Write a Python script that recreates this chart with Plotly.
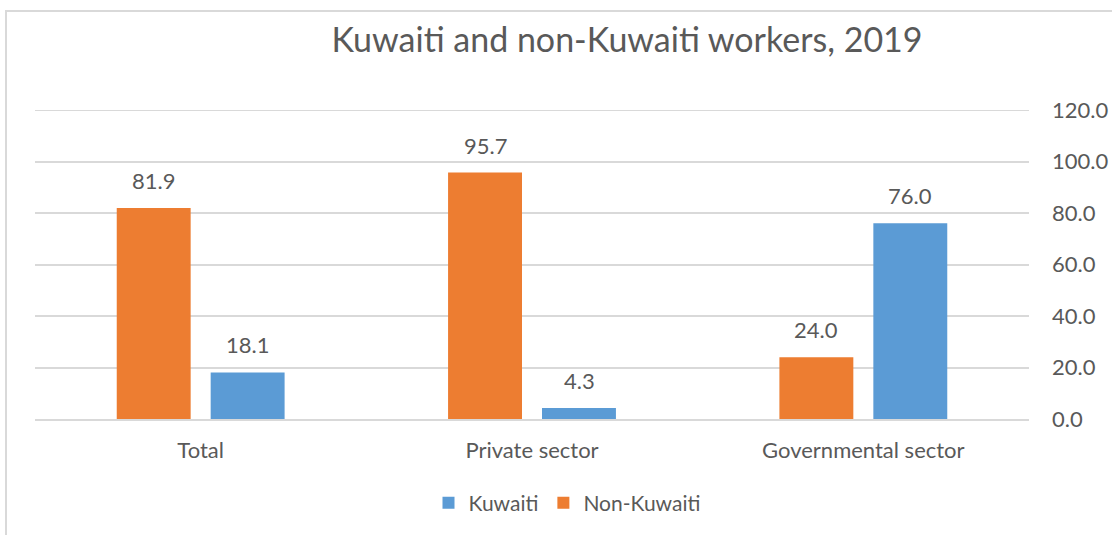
import plotly.graph_objects as go

# data
categories = ["Total", "Private sector", "Governmental sector"]
non_kuwaiti = [81.9, 95.7, 24.0]
kuwaiti = [18.1, 4.3, 76.0]
y_ticks = [0, 20, 40, 60, 80, 100, 120]

ORANGE = "#ED7D31"
BLUE = "#5B9BD5"
TEXT = "#595959"
GRID = "#D9D9D9"
FONT = "Lato, 'Open Sans', sans-serif"

W, H = 1112, 535
L, R, T, B = 35, 83, 110, 116
pw, ph = W - L - R, H - T - B

fig = go.Figure()
fig.add_trace(go.Bar(x=categories, y=non_kuwaiti, name="Non-Kuwaiti",
                     marker=dict(color=ORANGE, line=dict(width=0))))
fig.add_trace(go.Bar(x=categories, y=kuwaiti, name="Kuwaiti",
                     marker=dict(color=BLUE, line=dict(width=0))))

# value labels sit a bit higher above the bars than plotly's own outside text
for vals, dx in ((non_kuwaiti, -47), (kuwaiti, 47)):
    for cat, v in zip(categories, vals):
        fig.add_annotation(x=cat, y=v, text=f"{v:.1f}", showarrow=False,
                           xshift=dx, yshift=12, yanchor="bottom",
                           font=dict(size=22, color=TEXT, family=FONT))

# plotly skips the gridline sitting on the top edge, so draw it
fig.add_hline(y=y_ticks[-1], line=dict(color=GRID, width=2))

# outer chart border (only top and left edges fall inside the frame)
fig.add_shape(
    type="rect", xref="paper", yref="paper",
    x0=(6 - L) / pw, x1=1.3, y0=-0.6, y1=1 + (T - 11) / ph,
    line=dict(color=GRID, width=2), layer="above",
)

fig.update_layout(
    width=W, height=H,
    margin=dict(l=L, r=R, t=T, b=B, autoexpand=False),
    paper_bgcolor="white", plot_bgcolor="white",
    font=dict(family=FONT, color=TEXT, size=22),
    title=dict(
        text="Kuwaiti and non-Kuwaiti workers, 2019",
        x=(627 - L) / pw, xref="paper", xanchor="center",
        y=1 - 40 / H, yanchor="middle",
        font=dict(size=34, color=TEXT, family=FONT),
    ),
    barmode="group", bargap=0.433, bargroupgap=0.213,
    showlegend=True,
    legend=dict(
        orientation="h", traceorder="reversed",
        x=(567 - L) / pw, xanchor="center",
        y=-(503 - (T + ph)) / ph, yanchor="middle",
        font=dict(size=21, color=TEXT),
        itemwidth=30,
    ),
    xaxis=dict(
        showgrid=False, showline=True, linecolor=GRID, linewidth=2,
        ticks="", ticklabelstandoff=11, automargin=False,
        tickfont=dict(size=22, color=TEXT),
    ),
    yaxis=dict(
        side="right", range=[0, 120], tickvals=y_ticks, tickformat=".1f",
        showgrid=True, gridcolor=GRID, gridwidth=2, zeroline=False,
        ticks="", ticklabelstandoff=22, automargin=False,
        tickfont=dict(size=22, color=TEXT),
    ),
)

# drop the page's default body margin so the figure sits at the window corner
fig.write_html("out.html", config={"displayModeBar": False},
               post_script="document.body.style.margin='0';")
